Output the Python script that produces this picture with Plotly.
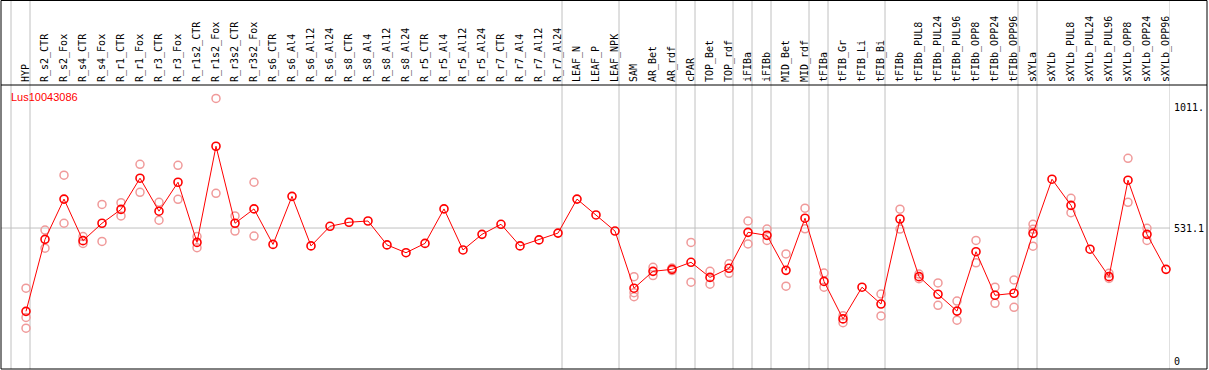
import plotly.graph_objects as go

gene = "Lus10043086"

categories = ["HYP", "R_s2_CTR", "R_s2_Fox", "R_s4_CTR", "R_s4_Fox", "R_r1_CTR", "R_r1_Fox",
              "R_r3_CTR", "R_r3_Fox", "R_r1s2_CTR", "R_r1s2_Fox", "R_r3s2_CTR", "R_r3s2_Fox",
              "R_s6_CTR", "R_s6_Al4", "R_s6_Al12", "R_s6_Al24", "R_s8_CTR", "R_s8_Al4", "R_s8_Al12",
              "R_s8_Al24", "R_r5_CTR", "R_r5_Al4", "R_r5_Al12", "R_r5_Al24", "R_r7_CTR", "R_r7_Al4",
              "R_r7_Al12", "R_r7_Al24", "LEAF_N", "LEAF_P", "LEAF_NPK", "SAM", "AR_Bet", "AR_rdf",
              "cPAR", "TOP_Bet", "TOP_rdf", "iFIBa", "iFIBb", "MID_Bet", "MID_rdf", "tFIBa",
              "tFIB_Gr", "tFIB_Li", "tFIB_Bi", "tFIBb", "tFIBb_PUL8", "tFIBb_PUL24", "tFIBb_PUL96",
              "tFIBb_OPP8", "tFIBb_OPP24", "tFIBb_OPP96", "sXYLa", "sXYLb", "sXYLb_PUL8",
              "sXYLb_PUL24", "sXYLb_PUL96", "sXYLb_OPP8", "sXYLb_OPP24", "sXYLb_OPP96"]

mean_values = [200, 486, 646, 481, 550, 605, 729, 598, 713, 474, 856, 550, 607,
               466, 657, 460, 538, 554, 559, 464, 433, 470, 607, 444, 506, 546, 460,
               484, 511, 646, 583, 519, 292, 359, 367, 395, 335, 371, 514, 502, 363,
               570, 319, 170, 296, 229, 567, 338, 268, 201, 437, 264, 272, 510, 725,
               621, 447, 338, 721, 506, 367]

# replicate measurements: (category index, value)
rep_index = [1, 1, 1, 2, 2, 3, 3, 4, 4, 5, 5, 6, 6, 7, 7, 8, 8, 9, 9, 10, 10, 11, 11,
             12, 12, 13, 13, 33, 33, 33, 34, 34, 35, 35, 36, 36, 37, 37, 38, 38, 39, 39,
             40, 40, 41, 41, 42, 42, 43, 43, 44, 44, 46, 46, 47, 47, 48, 48, 49, 49,
             50, 50, 51, 51, 52, 52, 53, 53, 54, 54, 54, 56, 56, 58, 58, 59, 59, 60, 60]
rep_values = [292, 176, 133, 523, 451, 741, 550, 497, 470, 625, 478, 632, 579, 784, 673,
              633, 562, 780, 645, 497, 453, 1046, 669, 579, 519, 713, 499,
              338, 274, 258, 375, 342, 372, 362, 474, 316, 359, 308, 389, 351, 559, 468,
              527, 482, 428, 300, 610, 528, 352, 296, 183, 155, 269, 182, 606, 527,
              348, 330, 313, 224, 241, 165, 482, 393, 296, 232, 325, 216, 546, 526, 459,
              649, 592, 351, 331, 808, 633, 530, 482]

# last category index of each group (0 = left edge)
group_ends = [0, 1, 29, 32, 35, 36, 38, 39, 40, 42, 43, 46, 53, 54, 61]

ytick_vals = [0, 531.1, 1011.0]
ytick_text = ["0", "531.1", "1011."]
grid_value = 531.1

x_pos = list(range(1, len(categories) + 1))

W, H = 1209, 370
ML, MR, MT, MB = 1, 39, 85, 1
plot_w = W - ML - MR
plot_h = H - MT - MB

fig = go.Figure()

fig.add_trace(go.Scatter(
    x=rep_index, y=rep_values, mode="markers",
    marker=dict(symbol="circle-open", size=8, color="#f09a9a", line=dict(width=1.5)),
    hoverinfo="skip", showlegend=False, cliponaxis=False))

fig.add_trace(go.Scatter(
    x=x_pos, y=mean_values, mode="lines+markers",
    line=dict(color="#ff0000", width=1),
    marker=dict(symbol="circle-open", size=8, color="#ff0000", line=dict(width=1.6)),
    showlegend=False, cliponaxis=False))

offset = 4 / 19.0
top_paper = 1 + MT / plot_h
for g in group_ends:
    fig.add_shape(type="line", xref="x", yref="paper", x0=g + offset, x1=g + offset,
                  y0=0, y1=top_paper, line=dict(color="#c0c0c0", width=1), layer="below")

fig.add_shape(type="line", xref="paper", yref="y", x0=0, x1=1,
              y0=grid_value, y1=grid_value, line=dict(color="#c0c0c0", width=1), layer="below")

right_paper = (W - 2 - ML) / plot_w
# frame
fig.add_shape(type="rect", xref="paper", yref="paper", x0=0, x1=right_paper,
              y0=0, y1=top_paper - 0.5 / plot_h, line=dict(color="black", width=1))
fig.add_shape(type="line", xref="paper", yref="paper", x0=0, x1=right_paper,
              y0=1, y1=1, line=dict(color="black", width=1))

fig.add_annotation(text=gene, xref="paper", yref="paper", x=(9 - ML) / plot_w,
                   y=1 - 12 / plot_h, xanchor="left", yanchor="middle", showarrow=False,
                   font=dict(family="Liberation Sans, Arial", size=11, color="#ff0000"))

x_lo = 1 + (ML - 26) / 19.0
x_hi = 1 + (ML + plot_w - 26) / 19.0
y_scale = 0.2517
y_lo = -(H - MB - 361.7) / y_scale
y_hi = (361.7 - MT) / y_scale

fig.update_layout(
    width=W, height=H, margin=dict(l=ML, r=MR, t=MT, b=MB, pad=0),
    paper_bgcolor="white", plot_bgcolor="white",
    xaxis=dict(range=[x_lo, x_hi], side="top", tickvals=x_pos, ticktext=categories,
               tickangle=-90, showgrid=False, zeroline=False, showline=False, ticks="",
               tickfont=dict(family="DejaVu Sans Mono", size=10, color="black"),
               ticklabelstandoff=2),
    yaxis=dict(range=[y_lo, y_hi], side="right", tickvals=ytick_vals, ticktext=ytick_text,
               showgrid=False, zeroline=False, showline=False, ticks="",
               tickfont=dict(family="DejaVu Sans Mono", size=10, color="black"),
               ticklabelstandoff=3),
)

fig.write_html("out.html", config={"displayModeBar": False},
               post_script="document.body.style.margin='0px';document.body.style.overflow='hidden';")
